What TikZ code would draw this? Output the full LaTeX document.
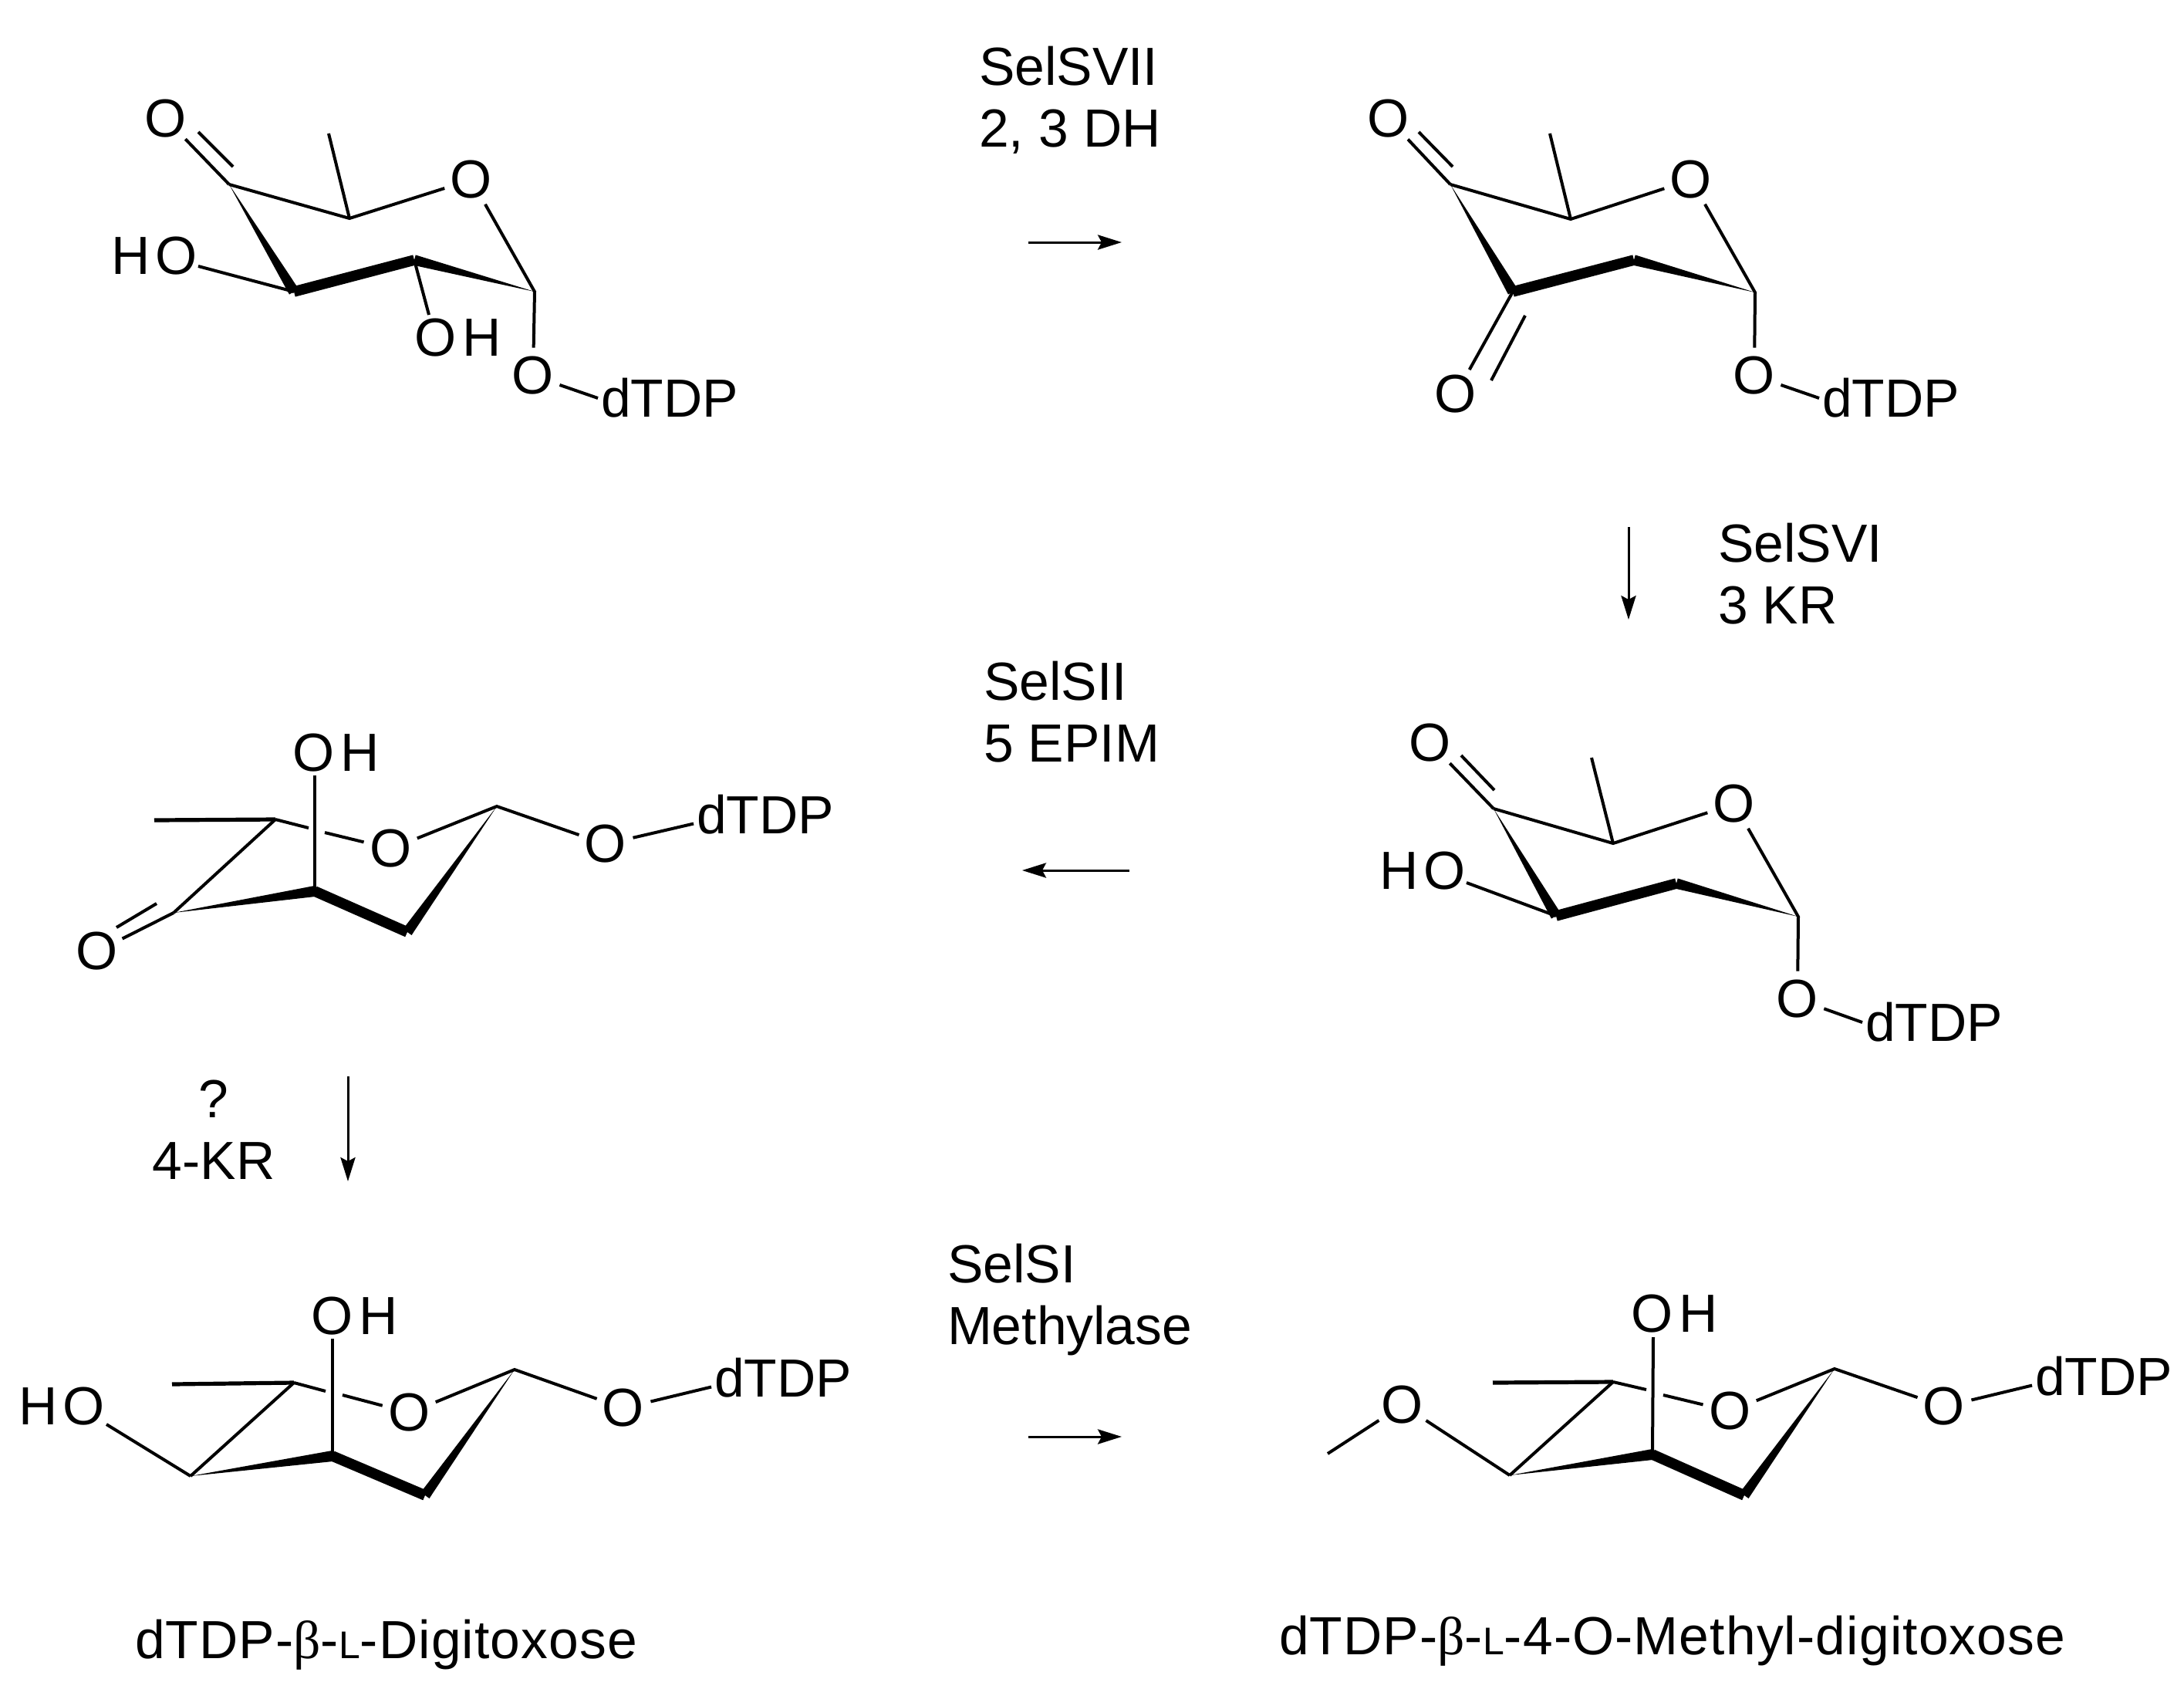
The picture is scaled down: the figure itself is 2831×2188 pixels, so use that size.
\documentclass[tikz,border=0pt]{standalone}
\usepackage{fontspec}
\setmainfont{Liberation Sans}
\newfontfamily\grkfont{Liberation Serif}
\newfontfamily\capfont{Liberation Sans}[LetterSpace=1.6]
\usetikzlibrary{calc,arrows.meta}
\newcommand{\ringbold}[4]{%
  \fill ($(#1)$) -- ($(#2)!1.75pt!90:(#1)$) -- ($(#2)!1.75pt!-90:(#1)$) -- cycle;
  \fill ($(#2)!1.7pt!90:(#3)$) -- ($(#3)!1.7pt!-90:(#2)$) -- ($(#3)!1.7pt!90:(#2)$) -- ($(#2)!1.7pt!-90:(#3)$) -- cycle;
  \fill ($(#4)$) -- ($(#3)!1.7pt!90:(#4)$) -- ($(#3)!1.7pt!-90:(#4)$) -- cycle;}
\newcommand{\smallL}{{\fontsize{12.5pt}{14pt}\selectfont L}}
\newcommand{\greekb}{{\grkfont β}}
\tikzset{
  bond/.style={line width=1pt},
  thickbond/.style={line width=1.3pt},
  atom/.style={circle,inner sep=0pt,outer sep=0pt,font=\fontsize{17.4pt}{20pt}\selectfont},
  grouplabel/.style={inner xsep=1pt,inner ysep=0pt,outer sep=0pt,font=\fontsize{17.4pt}{20pt}\selectfont},
  enzyme/.style={anchor=base west,inner sep=0pt,outer sep=0pt,align=left,font=\fontsize{17.4pt}{20pt}\selectfont},
  captiontext/.style={anchor=base west,inner sep=0pt,outer sep=0pt,font=\capfont\fontsize{17.4pt}{20pt}\selectfont},
  rxn/.style={line width=0.75pt,-{Stealth[length=7.75pt,width=4.8pt,inset=1.25pt]}},
}
\begin{document}
\begin{tikzpicture}[x=0.25pt,y=-0.25pt]
\useasboundingbox (0,0) rectangle (2831,2188);

% ---------- molecule A (top left)
\coordinate (a4) at (297,239);
\coordinate (a5) at (453,283);
\coordinate (a1) at (693,378);
\coordinate (a2) at (537,337);
\coordinate (a3) at (381,378);
\coordinate (aMe) at (426,173);
\coordinate (aDb1) at (302,216);
\coordinate (aDb2) at (257,171);
\coordinate (aOHend) at (556,408);
\coordinate (aHOend) at (257,345);
\node[atom] (aOr) at (611,233) {O};
\node[atom] (aOk) at (215,154) {O};
\node[grouplabel] (aHO) at (200,332) {H\kern1.6pt O};
\node[grouplabel] (aOH) at (594,438) {O\kern2pt H};
\node[atom] (aOg) at (691,487) {O};
\node[grouplabel] (aD) at (868,516) {dTDP};
\ringbold{a4}{a3}{a2}{a1}
\draw[bond] (a4) -- (a5) -- (aOr);
\draw[bond] (a5) -- (aMe);
\draw[bond] (aOr) -- (a1) -- (aOg);
\draw[bond] (a4) -- (aOk);
\draw[bond] (aDb1) -- (aDb2);
\draw[bond] (a3) -- (aHOend);
\draw[bond] (a2) -- (aOHend);
\draw[bond] (aOg) -- (aD.west);

% ---------- molecule B (top right)
\coordinate (b4) at (1880,239);
\coordinate (b5) at (2036,284);
\coordinate (b1) at (2275,379);
\coordinate (b2) at (2118,337);
\coordinate (b3) at (1961,378);
\coordinate (bMe) at (2009,173);
\coordinate (bDb1) at (1883,216);
\coordinate (bDb2) at (1839,171);
\coordinate (bDc1) at (1977,409);
\coordinate (bDc2) at (1933,493);
\node[atom] (bOr) at (2192,233) {O};
\node[atom] (bOk) at (1800,154) {O};
\node[atom] (bOk3) at (1887,511) {O};
\node[atom] (bOg) at (2274,487) {O};
\node[grouplabel] (bD) at (2451,516) {dTDP};
\ringbold{b4}{b3}{b2}{b1}
\draw[bond] (b4) -- (b5) -- (bOr);
\draw[bond] (b5) -- (bMe);
\draw[bond] (bOr) -- (b1) -- (bOg);
\draw[bond] (b4) -- (bOk);
\draw[bond] (bDb1) -- (bDb2);
\draw[bond] (b3) -- (bOk3);
\draw[bond] (bDc1) -- (bDc2);
\draw[bond] (bOg) -- (bD.west);

% ---------- molecule C (middle right)
\coordinate (c4) at (1936,1048);
\coordinate (c5) at (2091,1093);
\coordinate (c1) at (2331,1188);
\coordinate (c2) at (2173,1145);
\coordinate (c3) at (2017,1187);
\coordinate (cMe) at (2063,982);
\coordinate (cDb1) at (1937,1024);
\coordinate (cDb2) at (1894,979);
\coordinate (cHOend) at (1901,1144);
\node[atom] (cOr) at (2248,1042) {O};
\node[atom] (cOk) at (1854,963) {O};
\node[grouplabel] (cHO) at (1844,1129) {H\kern1.6pt O};
\node[atom] (cOg) at (2330,1295) {O};
\node[grouplabel] (cD) at (2507,1325) {dTDP};
\ringbold{c4}{c3}{c2}{c1}
\draw[bond] (c4) -- (c5) -- (cOr);
\draw[bond] (c5) -- (cMe);
\draw[bond] (cOr) -- (c1) -- (cOg);
\draw[bond] (c4) -- (cOk);
\draw[bond] (cDb1) -- (cDb2);
\draw[bond] (c3) -- (cHOend);
\draw[bond] (cOg) -- (cD.west);

% ---------- molecule D (middle left)
\coordinate (d4) at (225,1183);
\coordinate (d5) at (357,1062);
\coordinate (d1) at (644,1045);
\coordinate (d2) at (528,1208);
\coordinate (d3) at (408,1155);
\coordinate (dMe) at (200,1063);
\coordinate (dG1) at (400,1073);
\coordinate (dG2) at (421,1079);
\coordinate (dDb1) at (203,1171);
\coordinate (dDb2) at (151,1202);
\coordinate (dOHend) at (408,1005);
\node[atom] (dOr) at (507,1100) {O};
\node[atom] (dOk) at (126,1233) {O};
\node[grouplabel] (dOH) at (436,976) {O\kern2pt H};
\node[atom] (dOg) at (785,1094) {O};
\node[grouplabel] (dD) at (992,1056) {dTDP};
\ringbold{d4}{d3}{d2}{d1}
\draw[thickbond] (dMe) -- (d5);
\draw[bond] (d5) -- (d4);
\draw[bond] (d5) -- (dG1);
\draw[bond] (dG2) -- (dOr);
\draw[bond] (dOr) -- (d1) -- (dOg);
\draw[bond] (d4) -- (dOk);
\draw[bond] (dDb1) -- (dDb2);
\draw[bond] (d3) -- (dOHend);
\draw[bond] (dOg) -- ($(dD.west)!0.45!(dD.south west)$);

% ---------- molecule E (bottom left)
\coordinate (e4) at (247,1913);
\coordinate (e5) at (381,1792);
\coordinate (e1) at (667,1775);
\coordinate (e2) at (551,1938);
\coordinate (e3) at (431,1887);
\coordinate (eMe) at (223,1794);
\coordinate (eG1) at (422,1803);
\coordinate (eG2) at (444,1808);
\coordinate (eOHend) at (431,1735);
\coordinate (eHOend) at (138,1846);
\node[atom] (eOr) at (531,1831) {O};
\node[grouplabel] (eOH) at (460,1706) {O\kern2pt H};
\node[grouplabel] (eHO) at (80,1823) {H\kern1.6pt O};
\node[atom] (eOg) at (808,1825) {O};
\node[grouplabel] (eD) at (1015,1786) {dTDP};
\ringbold{e4}{e3}{e2}{e1}
\draw[thickbond] (eMe) -- (e5);
\draw[bond] (e5) -- (e4);
\draw[bond] (e5) -- (eG1);
\draw[bond] (eG2) -- (eOr);
\draw[bond] (eOr) -- (e1) -- (eOg);
\draw[bond] (e3) -- (eOHend);
\draw[bond] (e4) -- (eHOend);
\draw[bond] (eOg) -- ($(eD.west)!0.45!(eD.south west)$);

% ---------- molecule F (bottom right)
\coordinate (f4) at (1957,1912);
\coordinate (f5) at (2091,1791);
\coordinate (f1) at (2378,1774);
\coordinate (f2) at (2261,1938);
\coordinate (f3) at (2142,1885);
\coordinate (fMe) at (1935,1792);
\coordinate (fG1) at (2134,1801);
\coordinate (fG2) at (2156,1808);
\coordinate (fOHend) at (2143,1733);
\coordinate (fOMe) at (1721,1884);
\node[atom] (fOr) at (2243,1829) {O};
\node[grouplabel] (fOH) at (2171,1703) {O\kern2pt H};
\node[atom] (fOm) at (1818,1821) {O};
\node[atom] (fOg) at (2520,1823) {O};
\node[grouplabel] (fD) at (2727,1784) {dTDP};
\ringbold{f4}{f3}{f2}{f1}
\draw[thickbond] (fMe) -- (f5);
\draw[bond] (f5) -- (f4);
\draw[bond] (f5) -- (fG1);
\draw[bond] (fG2) -- (fOr);
\draw[bond] (fOr) -- (f1) -- (fOg);
\draw[bond] (f3) -- (fOHend);
\draw[bond] (f4) -- (fOm) -- (fOMe);
\draw[bond] (fOg) -- ($(fD.west)!0.45!(fD.south west)$);

% ---------- reaction labels (anchored on the last line's baseline)
\node[enzyme] (t1) at (1269,190) {SelSVII\\2, 3 DH};
\node[enzyme] (t2) at (2227,808) {SelSVI\\3 KR};
\node[enzyme] (t3) at (1275,987) {SelSII\\5 EPIM};
\node[enzyme] (t4) at (1228,1742) {SelSI\\Methylase};
\node[enzyme,align=center,anchor=base] (t5) at (277,1528) {?\\4-KR};

% ---------- reaction arrows
\coordinate (r1s) at (1333,314);  \coordinate (r1e) at (1454,314);
\coordinate (r2s) at (2111,683);  \coordinate (r2e) at (2111,803);
\coordinate (r3s) at (1464,1128); \coordinate (r3e) at (1325,1128);
\coordinate (r4s) at (451,1395);  \coordinate (r4e) at (451,1531);
\coordinate (r5s) at (1333,1862); \coordinate (r5e) at (1454,1862);
\draw[rxn] (r1s) -- (r1e);
\draw[rxn] (r2s) -- (r2e);
\draw[rxn] (r3s) -- (r3e);
\draw[rxn] (r4s) -- (r4e);
\draw[rxn] (r5s) -- (r5e);

% ---------- captions
\node[captiontext] (cap1) at (175,2149) {dTDP-\greekb-\smallL-Digitoxose};
\node[captiontext] (cap2) at (1658,2144) {dTDP-\greekb-\smallL-4-O-Methyl-digitoxose};
\end{tikzpicture}
\end{document}
